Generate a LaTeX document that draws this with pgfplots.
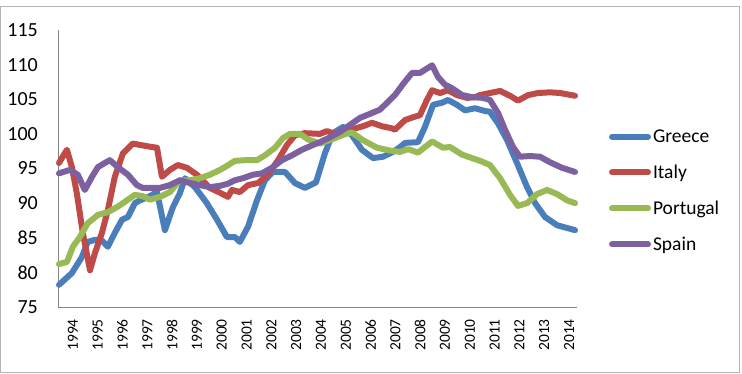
\documentclass[border=0pt]{standalone}
\usepackage{fontspec}
\setmainfont{Carlito}
\usepackage{pgfplots}
\pgfplotsset{compat=1.18}

\definecolor{grc}{RGB}{74,126,187}
\definecolor{ita}{RGB}{190,75,72}
\definecolor{prt}{RGB}{152,185,84}
\definecolor{esp}{RGB}{125,96,160}
\definecolor{axisgray}{RGB}{134,134,134}
\definecolor{framegray}{RGB}{180,180,180}

\begin{document}
\begin{tikzpicture}
\useasboundingbox (-58pt,-67pt) rectangle (684pt,307pt);
\begin{axis}[
  scale only axis, width=519pt, height=277pt,
  xmin=1993.40, xmax=2014.32, ymin=75, ymax=115,
  axis x line*=bottom, axis y line*=left,
  axis line style={axisgray, line width=0.9pt},
  ytick={75,80,...,115},
  xtick={1994,1995,...,2014},
  xticklabels={1994,1995,1996,1997,1998,1999,2000,2001,2002,2003,2004,2005,2006,2007,2008,2009,2010,2011,2012,2013,2014},
  major tick length=0pt,
  tick style={draw=none},
  /pgf/number format/assume math mode=true,
  yticklabel style={font=\fontsize{20}{20}\selectfont, inner sep=0pt},
  yticklabel shift=20pt,
  xticklabel style={font=\fontsize{15.5}{16}\selectfont, rotate=90, anchor=east, inner sep=0pt},
  xticklabel shift=12pt,
  legend style={draw=none, fill=none, at={(axis description cs:1.0617,0.647)}, anchor=north west,
    inner sep=0pt, outer sep=0pt, font=\fontsize{19.5}{20}\selectfont, row sep=17pt,
    /tikz/every even column/.append style={column sep=7pt}},
  legend cell align=left,
  legend image code/.code={\draw[#1, line width=6pt, line cap=round] (3pt,0pt) -- (39pt,0pt);},
  every axis plot/.append style={line width=6pt, line join=round, line cap=round},
  clip=false,
]
% Greece
\addplot[grc] table {
1993.44 78.2
1993.96 79.9
1994.36 82.2
1994.60 84.4
1994.89 84.7
1995.17 84.6
1995.41 83.7
1995.69 85.7
1995.98 87.6
1996.22 88.0
1996.50 90.0
1996.70 90.4
1997.00 90.8
1997.39 91.6
1997.71 86.1
1998.03 89.4
1998.31 91.4
1998.52 93.6
1998.92 92.3
1999.40 90.0
1999.81 87.6
2000.21 85.1
2000.53 85.1
2000.73 84.4
2001.06 86.6
2001.42 90.4
2001.74 93.3
2002.06 94.5
2002.55 94.5
2002.95 92.9
2003.35 92.2
2003.80 93.0
2004.16 97.2
2004.48 100.1
2004.89 101.0
2005.25 99.8
2005.65 97.7
2006.10 96.5
2006.50 96.7
2006.90 97.4
2007.19 98.1
2007.39 98.7
2007.91 98.8
2008.19 101.0
2008.52 104.2
2008.88 104.5
2009.12 104.9
2009.48 104.2
2009.81 103.4
2010.21 103.7
2010.61 103.3
2010.81 103.2
2011.14 101.5
2011.50 99.1
2011.90 95.8
2012.31 92.3
2012.63 90.0
2013.03 88.0
2013.52 86.8
2014.24 86.1
};
\addlegendentry{Greece}
% Italy
\addplot[ita] table {
1993.44 95.8
1993.76 97.7
1993.96 95.2
1994.16 91.4
1994.40 85.7
1994.69 80.3
1994.89 82.8
1995.17 85.7
1995.41 89.0
1995.69 93.8
1996.02 97.2
1996.42 98.6
1996.70 98.4
1997.19 98.1
1997.39 98.0
1997.59 93.8
1997.91 94.8
1998.23 95.5
1998.60 95.1
1999.00 94.1
1999.52 92.2
1999.93 91.5
2000.25 90.9
2000.41 91.9
2000.73 91.6
2001.06 92.6
2001.46 92.9
2001.86 94.1
2002.27 96.2
2002.63 98.4
2002.95 99.8
2003.35 100.1
2003.96 100.0
2004.24 100.4
2004.56 100.0
2004.89 100.3
2005.29 100.7
2005.69 101.1
2006.06 101.6
2006.46 101.1
2006.86 100.8
2006.98 100.6
2007.39 102.0
2007.71 102.4
2007.99 102.7
2008.27 104.9
2008.48 106.3
2008.80 105.9
2009.12 106.3
2009.48 105.6
2009.89 105.2
2010.21 105.3
2010.41 105.6
2010.81 105.9
2011.22 106.2
2011.62 105.5
2011.94 104.8
2012.35 105.6
2012.75 105.9
2013.23 106.0
2013.64 105.9
2014.24 105.5
};
\addlegendentry{Italy}
% Portugal
\addplot[prt] table {
1993.44 81.2
1993.76 81.5
1994.00 83.7
1994.28 85.1
1994.60 87.1
1995.01 88.3
1995.41 88.7
1995.77 89.4
1996.10 90.2
1996.50 91.2
1996.82 91.0
1997.10 90.5
1997.51 90.9
1997.91 91.6
1998.31 93.3
1998.72 93.3
1999.12 93.6
1999.52 94.1
1999.93 94.8
2000.13 95.2
2000.53 96.1
2000.94 96.2
2001.42 96.2
2001.74 96.9
2002.15 98.0
2002.47 99.4
2002.75 100.0
2003.15 100.0
2003.48 99.2
2003.96 98.6
2004.50 99.3
2005.00 100.0
2005.25 100.2
2005.69 99.1
2006.26 98.0
2006.78 97.6
2007.19 97.4
2007.51 97.8
2007.91 97.3
2008.48 98.9
2008.92 98.0
2009.20 98.1
2009.69 97.0
2010.09 96.5
2010.49 96.0
2010.81 95.5
2011.22 93.6
2011.62 91.2
2011.94 89.6
2012.31 90.0
2012.71 91.3
2013.11 91.9
2013.52 91.3
2013.92 90.4
2014.24 90.0
};
\addlegendentry{Portugal}
% Spain
\addplot[esp] table {
1993.44 94.3
1993.88 94.8
1994.20 94.1
1994.48 91.9
1994.77 93.8
1995.01 95.2
1995.29 95.8
1995.49 96.2
1995.81 95.2
1996.22 94.1
1996.58 92.6
1996.82 92.2
1997.10 92.2
1997.51 92.2
1997.91 92.6
1998.31 93.3
1998.72 92.9
1999.12 92.6
1999.52 92.3
1999.93 92.5
2000.25 92.8
2000.53 93.3
2000.85 93.6
2001.26 94.1
2001.62 94.3
2002.02 95.1
2002.43 96.2
2002.83 96.9
2003.23 97.7
2003.68 98.4
2003.96 98.8
2004.36 99.5
2004.77 100.3
2005.17 101.3
2005.57 102.3
2005.98 102.9
2006.38 103.5
2006.78 104.9
2006.98 105.6
2007.31 107.2
2007.67 108.8
2007.99 108.8
2008.48 109.9
2008.72 108.2
2009.00 107.1
2009.28 106.6
2009.69 105.6
2010.09 105.3
2010.53 105.2
2010.81 104.9
2011.14 103.0
2011.42 100.6
2011.74 98.1
2012.02 96.7
2012.43 96.8
2012.83 96.7
2013.23 95.9
2013.72 95.1
2014.24 94.5
};
\addlegendentry{Spain}
\end{axis}
\draw[framegray, line width=1pt] (-57.5pt,-65.5pt) rectangle (681pt,300pt);
\end{tikzpicture}
\end{document}
